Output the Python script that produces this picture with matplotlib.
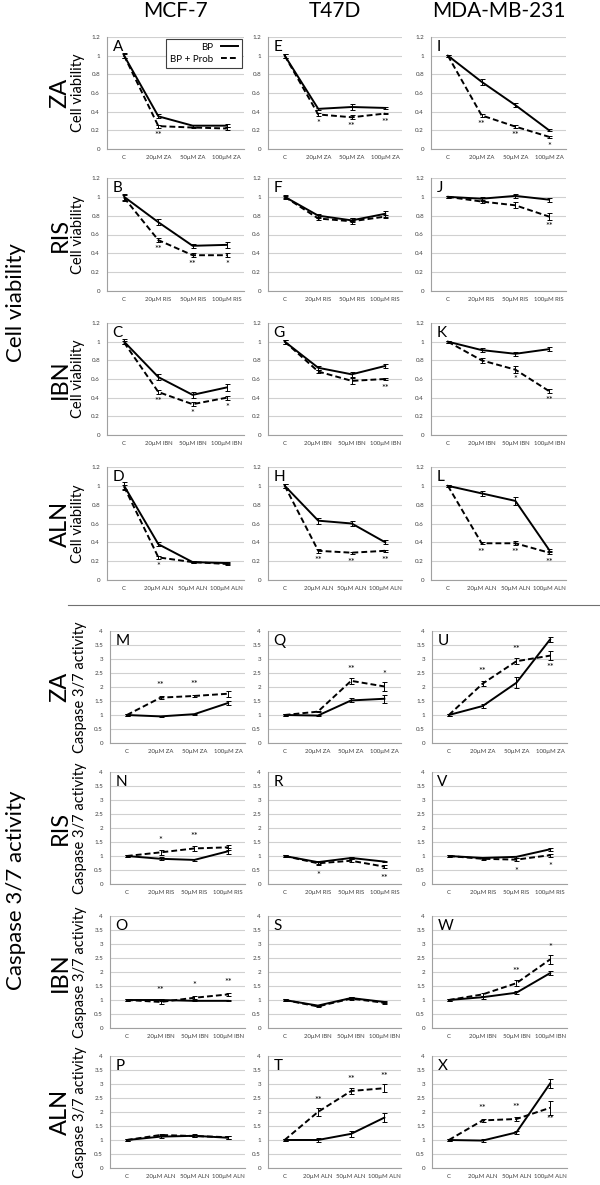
import numpy as np
import matplotlib
matplotlib.use('Agg')
import matplotlib.pyplot as plt
from matplotlib.lines import Line2D

plt.rcParams['font.family'] = ['Lato', 'DejaVu Sans']

cells = ['MCF-7', 'T47D', 'MDA-MB-231']
drugs = ['ZA', 'RIS', 'IBN', 'ALN']
doses = ['C', '20µM', '50µM', '100µM']

# ---- cell viability (rows: MCF-7, T47D, MDA-MB-231) ----
via_bp_za = [[1.0, 0.35, 0.25, 0.25], [1.0, 0.43, 0.45, 0.44], [1.0, 0.72, 0.47, 0.20]]
via_pr_za = [[1.0, 0.245, 0.23, 0.22], [1.0, 0.37, 0.34, 0.38], [1.0, 0.36, 0.24, 0.13]]
via_bp_ris = [[1.0, 0.73, 0.48, 0.49], [1.0, 0.80, 0.75, 0.82], [1.0, 0.98, 1.01, 0.97]]
via_pr_ris = [[0.99, 0.54, 0.38, 0.38], [1.0, 0.77, 0.74, 0.79], [1.0, 0.95, 0.91, 0.79]]
via_bp_ibn = [[1.0, 0.62, 0.43, 0.51], [1.0, 0.72, 0.65, 0.74], [1.0, 0.91, 0.87, 0.92]]
via_pr_ibn = [[0.99, 0.46, 0.33, 0.40], [1.0, 0.68, 0.58, 0.60], [1.0, 0.80, 0.70, 0.47]]
via_bp_aln = [[1.0, 0.38, 0.19, 0.18], [1.0, 0.63, 0.60, 0.40], [1.0, 0.92, 0.84, 0.32]]
via_pr_aln = [[0.99, 0.24, 0.19, 0.17], [1.0, 0.31, 0.29, 0.31], [1.0, 0.39, 0.39, 0.29]]

via_err_bp = [[[0.03, 0.02, 0.01, 0.015], [0.02, 0.01, 0.03, 0.015], [0.01, 0.03, 0.02, 0.01]],
              [[0.03, 0.03, 0.02, 0.03], [0.02, 0.02, 0.02, 0.03], [0.01, 0.02, 0.02, 0.02]],
              [[0.03, 0.03, 0.03, 0.04], [0.02, 0.02, 0.03, 0.02], [0.01, 0.02, 0.02, 0.02]],
              [[0.04, 0.02, 0.01, 0.01], [0.02, 0.03, 0.03, 0.02], [0.01, 0.03, 0.04, 0.01]]]
via_err_pr = [[[0.02, 0.015, 0.01, 0.015], [0.02, 0.02, 0.02, 0.01], [0.01, 0.02, 0.02, 0.01]],
              [[0.03, 0.02, 0.02, 0.02], [0.01, 0.02, 0.03, 0.02], [0.01, 0.02, 0.03, 0.04]],
              [[0.02, 0.02, 0.02, 0.02], [0.02, 0.02, 0.03, 0.01], [0.01, 0.03, 0.04, 0.02]],
              [[0.02, 0.015, 0.01, 0.01], [0.02, 0.02, 0.01, 0.01], [0.01, 0.01, 0.02, 0.01]]]

via_star_za = [['', '**', '', ''], ['', '*', '**', '**'], ['', '**', '**', '*']]
via_star_ris = [['', '**', '**', '*'], ['', '', '', ''], ['', '', '', '**']]
via_star_ibn = [['', '**', '*', '*'], ['', '', '', '**'], ['', '', '*', '**']]
via_star_aln = [['', '*', '', ''], ['', '**', '**', '**'], ['', '**', '**', '**']]

# ---- caspase 3/7 activity ----
cas_bp_za = [[1.0, 0.95, 1.03, 1.43], [1.0, 0.98, 1.52, 1.58], [1.0, 1.32, 2.15, 3.70]]
cas_pr_za = [[1.0, 1.62, 1.68, 1.76], [1.0, 1.12, 2.22, 2.02], [1.0, 2.12, 2.92, 3.12]]
cas_bp_ris = [[1.0, 0.90, 0.86, 1.17], [1.0, 0.78, 0.93, 0.80], [1.0, 0.93, 0.97, 1.24]]
cas_pr_ris = [[1.0, 1.13, 1.27, 1.31], [1.0, 0.74, 0.83, 0.62], [1.0, 0.90, 0.87, 1.03]]
cas_bp_ibn = [[1.0, 1.0, 0.97, 0.97], [1.0, 0.80, 1.07, 0.93], [1.0, 1.10, 1.26, 1.96]]
cas_pr_ibn = [[1.0, 0.93, 1.08, 1.20], [1.0, 0.77, 1.05, 0.90], [1.0, 1.20, 1.60, 2.45]]
cas_bp_aln = [[1.0, 1.12, 1.15, 1.08], [1.0, 1.0, 1.22, 1.80], [1.0, 0.98, 1.27, 3.02]]
cas_pr_aln = [[1.0, 1.18, 1.14, 1.10], [1.0, 2.0, 2.75, 2.85], [1.0, 1.70, 1.75, 2.15]]

cas_err_bp = [[[0.02, 0.02, 0.02, 0.08], [0.02, 0.03, 0.07, 0.15], [0.02, 0.06, 0.2, 0.1]],
              [[0.05, 0.05, 0.03, 0.1], [0.02, 0.05, 0.03, 0.03], [0.02, 0.03, 0.03, 0.05]],
              [[0.02, 0.02, 0.02, 0.02], [0.02, 0.03, 0.04, 0.03], [0.02, 0.05, 0.05, 0.08]],
              [[0.02, 0.05, 0.05, 0.05], [0.02, 0.08, 0.1, 0.15], [0.02, 0.05, 0.05, 0.15]]]
cas_err_pr = [[[0.02, 0.05, 0.05, 0.1], [0.02, 0.03, 0.1, 0.15], [0.02, 0.1, 0.1, 0.15]],
              [[0.05, 0.08, 0.1, 0.1], [0.02, 0.05, 0.05, 0.05], [0.02, 0.03, 0.05, 0.05]],
              [[0.02, 0.08, 0.05, 0.05], [0.02, 0.03, 0.04, 0.03], [0.02, 0.05, 0.1, 0.15]],
              [[0.02, 0.05, 0.05, 0.05], [0.02, 0.15, 0.1, 0.15], [0.02, 0.05, 0.08, 0.25]]]

# star text and side (+1 above the dashed point, -1 below)
cas_star_za = [['', '**', '**', ''], ['', '', '**', '*'], ['', '**', '**', '**']]
cas_side_za = [[1, 1, 1, 1], [1, 1, 1, 1], [1, 1, 1, -1]]
cas_star_ris = [['', '*', '**', ''], ['', '*', '', '**'], ['', '', '*', '*']]
cas_side_ris = [[1, 1, 1, 1], [-1, -1, -1, -1], [-1, -1, -1, -1]]
cas_star_ibn = [['', '**', '*', '**'], ['', '', '', ''], ['', '', '**', '*']]
cas_side_ibn = [[1, 1, 1, 1], [1, 1, 1, 1], [1, 1, 1, 1]]
cas_star_aln = [['', '', '', ''], ['', '**', '**', '**'], ['', '**', '**', '**']]
cas_side_aln = [[1, 1, 1, 1], [1, 1, 1, 1], [1, 1, 1, -1]]

via_bp = [via_bp_za, via_bp_ris, via_bp_ibn, via_bp_aln]
via_pr = [via_pr_za, via_pr_ris, via_pr_ibn, via_pr_aln]
via_star = [via_star_za, via_star_ris, via_star_ibn, via_star_aln]
cas_bp = [cas_bp_za, cas_bp_ris, cas_bp_ibn, cas_bp_aln]
cas_pr = [cas_pr_za, cas_pr_ris, cas_pr_ibn, cas_pr_aln]
cas_star = [cas_star_za, cas_star_ris, cas_star_ibn, cas_star_aln]
cas_side = [cas_side_za, cas_side_ris, cas_side_ibn, cas_side_aln]

via_letters = ['AEI', 'BFJ', 'CGK', 'DHL']
cas_letters = ['MQU', 'NRV', 'OSW', 'PTX']

W, H = 600, 1185
fig = plt.figure(figsize=(W / 100, H / 100), dpi=100)


def rect(x0, x1, ytop, ybot):
    return [x0 / W, 1 - ybot / H, (x1 - x0) / W, (ybot - ytop) / H]


via_cols = [(107, 244), (268, 402), (431, 566)]
cas_cols = [(110, 245), (268, 401), (432, 567)]
via_rows = [(37, 149), (178, 291), (323, 435), (467, 580)]
cas_rows = [(631, 743), (772, 884), (916, 1028), (1056, 1168)]

grid_c = '#d0d0d0'
x = np.arange(4)


def panel(ax, bp, pr, ebp, epr, ymax, ystep, drug, letter):
    ax.errorbar(x, bp, yerr=ebp, color='black', lw=1.4, capsize=1.8,
                elinewidth=0.7, capthick=0.7)
    ax.errorbar(x, pr, yerr=epr, color='black', lw=1.4, ls=(0, (3, 1.6)),
                capsize=1.8, elinewidth=0.7, capthick=0.7)
    ax.set_xlim(-0.5, 3.5)
    ax.set_ylim(0, ymax)
    ticks = np.arange(0, ymax + 1e-9, ystep)
    ax.set_yticks(ticks)
    ax.set_yticklabels(['%g' % t for t in ticks], fontsize=4.5, color='#404040')
    ax.set_xticks(x)
    ax.set_xticklabels(['C'] + [d + ' ' + drug for d in doses[1:]],
                       fontsize=4.3, color='#404040')
    ax.tick_params(axis='x', length=0, pad=4)
    ax.tick_params(axis='y', length=0, pad=5)
    ax.grid(axis='y', color=grid_c, lw=0.8)
    ax.set_axisbelow(True)
    for s in ['top', 'right']:
        ax.spines[s].set_visible(False)
    ax.spines['left'].set_color('#a0a0a0')
    ax.spines['bottom'].set_color('#a0a0a0')
    ax.spines['left'].set_linewidth(0.8)
    ax.spines['bottom'].set_linewidth(0.8)
    ax.text(0.04, 0.97, letter, transform=ax.transAxes, fontsize=11,
            ha='left', va='top')


for r, drug in enumerate(drugs):
    for c in range(3):
        ax = fig.add_axes(rect(via_cols[c][0], via_cols[c][1], *via_rows[r]))
        panel(ax, via_bp[r][c], via_pr[r][c], via_err_bp[r][c], via_err_pr[r][c],
              1.2, 0.2, drug, via_letters[r][c])
        for i, s in enumerate(via_star[r][c]):
            if s:
                ax.text(i, via_pr[r][c][i] - 0.1, s, ha='center', va='center',
                        fontsize=6.5)
        if r == 0 and c == 0:
            h = [Line2D([], [], color='black', lw=1.4),
                 Line2D([], [], color='black', lw=1.4, ls=(0, (3, 1.6)))]
            leg = ax.legend(h, ['BP', 'BP + Prob'], loc='upper right',
                            markerfirst=False, fontsize=7, fancybox=False,
                            edgecolor='#404040', framealpha=1,
                            handlelength=1.8, borderaxespad=0.2,
                            labelspacing=0.3, borderpad=0.4)
            for t in leg.get_texts():
                t.set_ha('right')
            leg.get_frame().set_linewidth(0.8)

    for c in range(3):
        ax = fig.add_axes(rect(cas_cols[c][0], cas_cols[c][1], *cas_rows[r]))
        panel(ax, cas_bp[r][c], cas_pr[r][c], cas_err_bp[r][c], cas_err_pr[r][c],
              4, 0.5, drug, cas_letters[r][c])
        for i, s in enumerate(cas_star[r][c]):
            if s:
                side = cas_side[r][c][i]
                off = 0.42 if side > 0 else -0.42
                ax.text(i, cas_pr[r][c][i] + off, s, ha='center', va='center',
                        fontsize=6.5)

    # row labels
    yv = H - (via_rows[r][0] + via_rows[r][1]) / 2
    fig.text(60 / W, yv / H, drug, rotation=90, fontsize=17, ha='center',
             va='center')
    fig.text(78 / W, yv / H, 'Cell viability', rotation=90, fontsize=10.5,
             ha='center', va='center')
    yc = H - (cas_rows[r][0] + cas_rows[r][1]) / 2
    fig.text(60 / W, yc / H, drug, rotation=90, fontsize=17, ha='center',
             va='center')
    fig.text(80 / W, yc / H, 'Caspase 3/7 activity', rotation=90, fontsize=10.5,
             ha='center', va='center')

# column titles
for c, name in enumerate(cells):
    xc = (via_cols[c][0] + via_cols[c][1]) / 2
    fig.text(xc / W, 1 - 11 / H, name, fontsize=15, ha='center', va='center')

# group labels
fig.text(16 / W, 1 - 303 / H, 'Cell viability', rotation=90, fontsize=16,
         ha='center', va='center')
fig.text(16 / W, 1 - 890 / H, 'Caspase 3/7 activity', rotation=90, fontsize=16,
         ha='center', va='center')

# separator line
fig.add_artist(Line2D([68 / W, 1.0], [1 - 605 / H, 1 - 605 / H],
                      color='#707070', lw=0.8))

fig.savefig('out.png', dpi=100)
